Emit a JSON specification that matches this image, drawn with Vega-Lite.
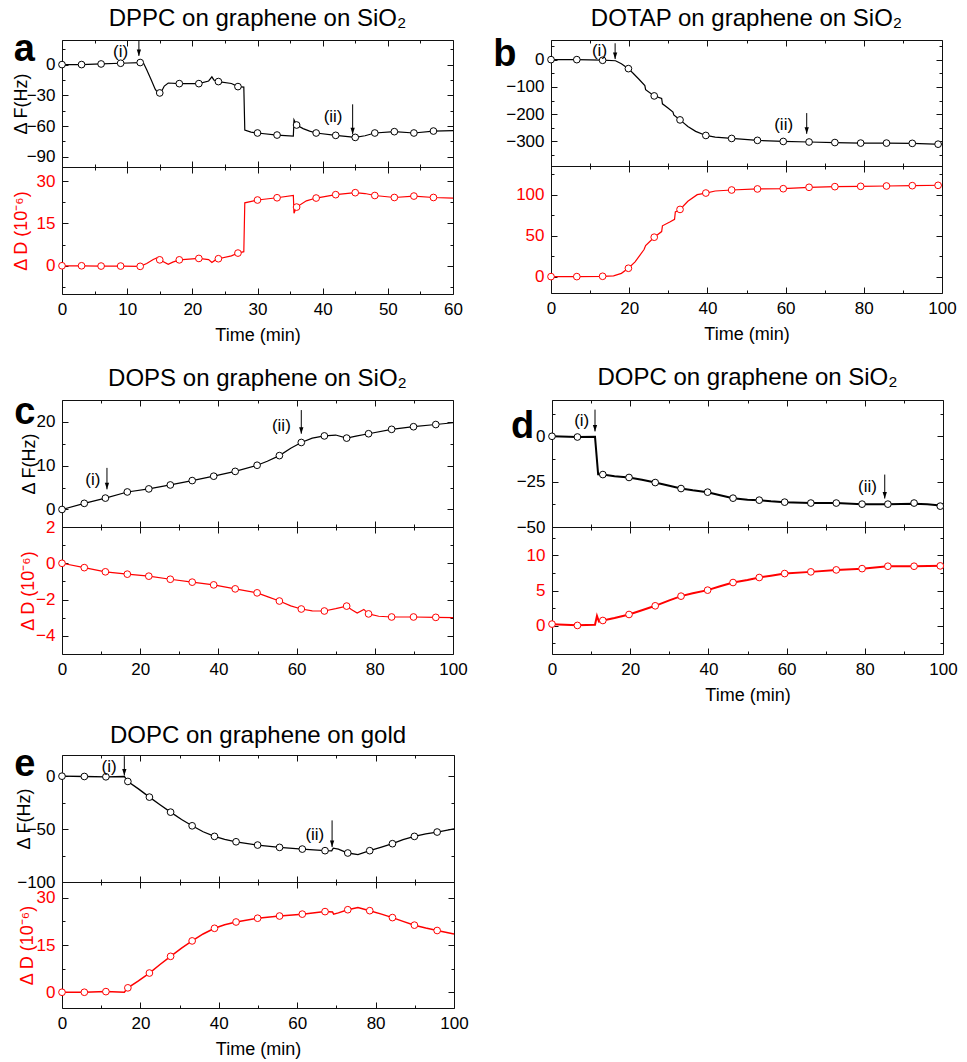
{
"$schema": "https://vega.github.io/schema/vega-lite/v6.json",
"background": "white",
"padding": {"left": 11, "top": 5, "right": 5, "bottom": 5},
"config": {
 "font": "Liberation Sans",
 "view": {"stroke": "#111", "strokeWidth": 1},
 "axis": {"domain": false, "grid": false, "tickColor": "#111", "tickWidth": 1, "tickSize": -6, "labelFont": "Liberation Sans", "labelFontSize": 17, "labelColor": "#000", "labelPadding": 7, "labelFlush": false, "labelOverlap": false, "labelBound": false, "titleFont": "Liberation Sans", "titleFontSize": 18, "titleFontWeight": "normal", "titleColor": "#000", "titlePadding": 9},
 "title": {"font": "Liberation Sans", "fontSize": 24, "fontWeight": "normal", "color": "#000", "frame": "group", "anchor": "middle", "offset": 10}
},
"datasets": {
 "aF": [{"t":0,"v":0},{"t":3,"v":0},{"t":6,"v":0.6},{"t":9,"v":1.3},{"t":12,"v":2},{"t":12.5,"v":1.5},{"t":13,"v":-5},{"t":13.7,"v":-15},{"t":14.3,"v":-24},{"t":14.8,"v":-28.5},{"t":15.2,"v":-27},{"t":15.7,"v":-21},{"t":16.3,"v":-18},{"t":18,"v":-18.6},{"t":21,"v":-18.6},{"t":22.5,"v":-16},{"t":23,"v":-12},{"t":23.3,"v":-15},{"t":24,"v":-16.6},{"t":26,"v":-18.5},{"t":27,"v":-21.5},{"t":27.9,"v":-22},{"t":28.05,"v":-64},{"t":29,"v":-66},{"t":30,"v":-66.8},{"t":33,"v":-68.8},{"t":35.5,"v":-69.8},{"t":35.6,"v":-54},{"t":36,"v":-59},{"t":37,"v":-62.5},{"t":38,"v":-65},{"t":39,"v":-66.8},{"t":42,"v":-69.1},{"t":45,"v":-71.1},{"t":46.5,"v":-69.5},{"t":48,"v":-66.8},{"t":51,"v":-65.5},{"t":54,"v":-66.8},{"t":57,"v":-64.9},{"t":60,"v":-64.5}],
 "aFm": [{"t":0,"v":0},{"t":3,"v":0},{"t":6,"v":0.6},{"t":9,"v":1.3},{"t":12,"v":2},{"t":15,"v":-27.7},{"t":18,"v":-18.6},{"t":21,"v":-18.6},{"t":24,"v":-16.6},{"t":27,"v":-21.5},{"t":30,"v":-66.8},{"t":33,"v":-68.8},{"t":36,"v":-59},{"t":39,"v":-66.8},{"t":42,"v":-69.1},{"t":45,"v":-71.1},{"t":48,"v":-66.8},{"t":51,"v":-65.5},{"t":54,"v":-66.8},{"t":57,"v":-64.9}],
 "aD": [{"t":0,"v":0},{"t":3,"v":0},{"t":6,"v":-0.1},{"t":9,"v":-0.1},{"t":12,"v":-0.2},{"t":13,"v":0.8},{"t":14,"v":2.2},{"t":14.8,"v":3},{"t":15.5,"v":1.5},{"t":16.3,"v":0.5},{"t":17,"v":1.3},{"t":18,"v":2.1},{"t":21,"v":2.6},{"t":22.5,"v":2.2},{"t":23,"v":1.2},{"t":23.5,"v":2},{"t":24,"v":2.5},{"t":26,"v":3.5},{"t":27,"v":4.5},{"t":27.9,"v":5},{"t":28.05,"v":22.3},{"t":30,"v":23.3},{"t":33,"v":24.1},{"t":35.5,"v":24.9},{"t":35.6,"v":18.6},{"t":36,"v":20.8},{"t":37.5,"v":23},{"t":39,"v":24},{"t":42,"v":25.2},{"t":45,"v":25.9},{"t":46.5,"v":25.6},{"t":48,"v":24.9},{"t":51,"v":24.2},{"t":54,"v":24.7},{"t":57,"v":24.2},{"t":60,"v":24}],
 "aDm": [{"t":0,"v":0},{"t":3,"v":0},{"t":6,"v":-0.1},{"t":9,"v":-0.1},{"t":12,"v":-0.2},{"t":15,"v":2.1},{"t":18,"v":2.1},{"t":21,"v":2.6},{"t":24,"v":2.5},{"t":27,"v":4.5},{"t":30,"v":23.3},{"t":33,"v":24.1},{"t":36,"v":20.8},{"t":39,"v":24},{"t":42,"v":25.2},{"t":45,"v":25.9},{"t":48,"v":24.9},{"t":51,"v":24.2},{"t":54,"v":24.7},{"t":57,"v":24.2}],
 "aFt": [{"t":9,"v":12.4,"label":"(i)"},{"t":41.6,"v":-51.2,"label":"(ii)"}],
 "aFa": [{"t":11.8,"v":23,"v2":8.5},{"t":44.6,"v":-38.8,"v2":-68.1}],
 "aFl": [{"t":-5.8,"v":3.6,"label":"a"}],
 "bF": [{"t":0,"v":0},{"t":6.6,"v":0},{"t":13.2,"v":-2},{"t":16.5,"v":-4},{"t":18,"v":-15},{"t":19.8,"v":-33},{"t":21,"v":-50},{"t":22.5,"v":-72},{"t":24,"v":-95},{"t":24.2,"v":-110},{"t":26.4,"v":-133},{"t":28.3,"v":-142},{"t":28.5,"v":-162},{"t":30,"v":-178},{"t":31.2,"v":-192},{"t":31.4,"v":-203},{"t":33,"v":-221},{"t":35,"v":-245},{"t":37,"v":-263},{"t":39.6,"v":-278},{"t":42,"v":-284},{"t":46.2,"v":-289},{"t":52.8,"v":-296},{"t":59.4,"v":-300},{"t":66,"v":-302},{"t":72.6,"v":-304},{"t":79.2,"v":-306},{"t":85.8,"v":-306},{"t":92.4,"v":-307},{"t":100,"v":-311}],
 "bFm": [{"t":0,"v":0},{"t":6.6,"v":0},{"t":13.2,"v":-2.4},{"t":19.8,"v":-33},{"t":26.4,"v":-133},{"t":33,"v":-221},{"t":39.6,"v":-278},{"t":46.2,"v":-289},{"t":52.8,"v":-296},{"t":59.4,"v":-300},{"t":66,"v":-302},{"t":72.6,"v":-304},{"t":79.2,"v":-306},{"t":85.8,"v":-306},{"t":92.4,"v":-307},{"t":99,"v":-310}],
 "bD": [{"t":0,"v":0},{"t":6.6,"v":0},{"t":13.2,"v":0.4},{"t":16,"v":1},{"t":18,"v":4},{"t":19.8,"v":10.2},{"t":21.5,"v":18},{"t":23.8,"v":33},{"t":24.2,"v":38},{"t":26.4,"v":48.1},{"t":28.3,"v":55},{"t":28.5,"v":62},{"t":30.5,"v":67},{"t":31.6,"v":70},{"t":31.8,"v":79},{"t":33,"v":82},{"t":35,"v":92},{"t":37.4,"v":100},{"t":39.6,"v":102},{"t":42,"v":104.5},{"t":46.2,"v":105.7},{"t":52.8,"v":107},{"t":59.4,"v":107.3},{"t":66,"v":109},{"t":72.6,"v":109.8},{"t":79.2,"v":110.2},{"t":85.8,"v":110.6},{"t":92.4,"v":111},{"t":100,"v":111.5}],
 "bDm": [{"t":0,"v":0},{"t":6.6,"v":0},{"t":13.2,"v":0.4},{"t":19.8,"v":10.2},{"t":26.4,"v":48.1},{"t":33,"v":82},{"t":39.6,"v":102},{"t":46.2,"v":105.7},{"t":52.8,"v":107},{"t":59.4,"v":107.3},{"t":66,"v":109},{"t":72.6,"v":109.8},{"t":79.2,"v":110.2},{"t":85.8,"v":110.6},{"t":92.4,"v":111},{"t":99,"v":111.4}],
 "bFt": [{"t":12.4,"v":33,"label":"(i)"},{"t":59.5,"v":-238,"label":"(ii)"}],
 "bFa": [{"t":16.4,"v":60,"v2":2},{"t":65.4,"v":-196,"v2":-272}],
 "bFl": [{"t":-11.8,"v":-21.5,"label":"b"}],
 "cF": [{"t":0,"v":0},{"t":5.7,"v":1.4},{"t":11.1,"v":2.6},{"t":16.7,"v":4.0},{"t":22.2,"v":4.7},{"t":27.7,"v":5.6},{"t":33.3,"v":6.6},{"t":38.8,"v":7.6},{"t":44.3,"v":8.7},{"t":49.9,"v":10.1},{"t":52.5,"v":11},{"t":55.6,"v":12.3},{"t":58.5,"v":14},{"t":61.2,"v":15.3},{"t":64,"v":16.3},{"t":67.1,"v":16.8},{"t":70,"v":17.0},{"t":72.8,"v":16.3},{"t":75.5,"v":16.8},{"t":78.4,"v":17.3},{"t":84.3,"v":18.3},{"t":89.9,"v":18.9},{"t":95.6,"v":19.4},{"t":100,"v":19.8}],
 "cFm": [{"t":0,"v":0},{"t":5.7,"v":1.4},{"t":11.1,"v":2.6},{"t":16.7,"v":4.0},{"t":22.2,"v":4.7},{"t":27.7,"v":5.6},{"t":33.3,"v":6.6},{"t":38.8,"v":7.6},{"t":44.3,"v":8.7},{"t":49.9,"v":10.1},{"t":55.6,"v":12.3},{"t":61.2,"v":15.3},{"t":67.1,"v":16.8},{"t":72.8,"v":16.3},{"t":78.4,"v":17.3},{"t":84.3,"v":18.3},{"t":89.9,"v":18.9},{"t":95.6,"v":19.4}],
 "cD": [{"t":0,"v":0},{"t":5.7,"v":-0.24},{"t":11.1,"v":-0.47},{"t":16.7,"v":-0.6},{"t":22.2,"v":-0.71},{"t":27.7,"v":-0.88},{"t":33.3,"v":-1.04},{"t":38.8,"v":-1.19},{"t":44.3,"v":-1.41},{"t":49.9,"v":-1.63},{"t":52.7,"v":-1.85},{"t":55.6,"v":-2.08},{"t":58.5,"v":-2.35},{"t":61.2,"v":-2.52},{"t":64,"v":-2.62},{"t":67.1,"v":-2.63},{"t":70,"v":-2.5},{"t":72.8,"v":-2.36},{"t":74,"v":-2.55},{"t":75.5,"v":-2.74},{"t":77.2,"v":-2.54},{"t":78.4,"v":-2.79},{"t":81,"v":-2.92},{"t":84.3,"v":-2.96},{"t":89.9,"v":-2.96},{"t":95.6,"v":-2.98},{"t":100,"v":-3.0}],
 "cDm": [{"t":0,"v":0},{"t":5.7,"v":-0.24},{"t":11.1,"v":-0.47},{"t":16.7,"v":-0.6},{"t":22.2,"v":-0.71},{"t":27.7,"v":-0.88},{"t":33.3,"v":-1.04},{"t":38.8,"v":-1.19},{"t":44.3,"v":-1.41},{"t":49.9,"v":-1.63},{"t":55.6,"v":-2.08},{"t":61.2,"v":-2.52},{"t":67.1,"v":-2.63},{"t":72.8,"v":-2.36},{"t":78.4,"v":-2.79},{"t":84.3,"v":-2.96},{"t":89.9,"v":-2.96},{"t":95.6,"v":-2.98}],
 "cFt": [{"t":7.9,"v":6.7,"label":"(i)"},{"t":56.1,"v":19.1,"label":"(ii)"}],
 "cFa": [{"t":11.5,"v":9.5,"v2":4.6},{"t":61.2,"v":22.7,"v2":17.3}],
 "cFl": [{"t":-9.5,"v":19.5,"label":"c"}],
 "dF": [{"t":0,"v":0},{"t":6.5,"v":-0.4},{"t":11,"v":-0.3},{"t":11.3,"v":-8},{"t":11.8,"v":-21},{"t":13,"v":-21.1},{"t":16,"v":-22},{"t":19.7,"v":-22.7},{"t":23,"v":-24},{"t":26.4,"v":-25.5},{"t":30,"v":-27.3},{"t":33,"v":-28.8},{"t":36,"v":-29.8},{"t":39.8,"v":-30.8},{"t":43,"v":-32.5},{"t":46.3,"v":-34.1},{"t":50,"v":-35},{"t":53,"v":-35.2},{"t":56,"v":-35.8},{"t":59.5,"v":-36.3},{"t":66.2,"v":-36.8},{"t":72.7,"v":-36.8},{"t":79.3,"v":-37.4},{"t":85.9,"v":-37.4},{"t":92.6,"v":-37.2},{"t":96,"v":-37.5},{"t":100,"v":-38.3}],
 "dFm": [{"t":0,"v":0},{"t":6.5,"v":-0.4},{"t":13,"v":-21.1},{"t":19.7,"v":-22.7},{"t":26.4,"v":-25.5},{"t":33,"v":-28.8},{"t":39.8,"v":-30.8},{"t":46.3,"v":-34.1},{"t":53,"v":-35.2},{"t":59.5,"v":-36.3},{"t":66.2,"v":-36.8},{"t":72.7,"v":-36.8},{"t":79.3,"v":-37.4},{"t":85.9,"v":-37.4},{"t":92.6,"v":-36.8},{"t":99.3,"v":-38.5}],
 "dD": [{"t":0,"v":0.2},{"t":6.5,"v":0.08},{"t":11,"v":0.15},{"t":11.5,"v":1.4},{"t":12,"v":0.6},{"t":13,"v":0.75},{"t":16,"v":1.1},{"t":19.7,"v":1.6},{"t":23,"v":2.2},{"t":26.4,"v":2.83},{"t":30,"v":3.6},{"t":33,"v":4.2},{"t":36,"v":4.6},{"t":39.8,"v":5.05},{"t":43,"v":5.6},{"t":46.3,"v":6.13},{"t":50,"v":6.5},{"t":53,"v":6.84},{"t":56,"v":7.1},{"t":59.5,"v":7.4},{"t":66.2,"v":7.64},{"t":72.7,"v":7.92},{"t":79.3,"v":8.1},{"t":85.9,"v":8.44},{"t":92.6,"v":8.44},{"t":100,"v":8.5}],
 "dDm": [{"t":0,"v":0.24},{"t":6.5,"v":0.05},{"t":13,"v":0.75},{"t":19.7,"v":1.6},{"t":26.4,"v":2.83},{"t":33,"v":4.2},{"t":39.8,"v":5.05},{"t":46.3,"v":6.13},{"t":53,"v":6.84},{"t":59.5,"v":7.4},{"t":66.2,"v":7.64},{"t":72.7,"v":7.92},{"t":79.3,"v":8.1},{"t":85.9,"v":8.44},{"t":92.6,"v":8.44},{"t":99.3,"v":8.49}],
 "dFt": [{"t":7.6,"v":8.2,"label":"(i)"},{"t":80.7,"v":-27.8,"label":"(ii)"}],
 "dFa": [{"t":11.0,"v":14.7,"v2":2.7},{"t":85.1,"v":-21.1,"v2":-34.3}],
 "dFl": [{"t":-7.5,"v":-1.1,"label":"d"}],
 "eF": [{"t":0,"v":0},{"t":5.7,"v":-0.3},{"t":11.2,"v":-0.6},{"t":15.9,"v":-0.3},{"t":16.8,"v":-5},{"t":19.5,"v":-12},{"t":22.3,"v":-19.8},{"t":25,"v":-27},{"t":27.7,"v":-34},{"t":30.5,"v":-41},{"t":33.2,"v":-46.9},{"t":36,"v":-52.5},{"t":38.9,"v":-56.9},{"t":41.5,"v":-59.8},{"t":44.4,"v":-62},{"t":49.9,"v":-65.1},{"t":55.5,"v":-67.3},{"t":61.3,"v":-68.9},{"t":67.1,"v":-70.4},{"t":68.8,"v":-70.5},{"t":69.2,"v":-68},{"t":70.5,"v":-69},{"t":72.9,"v":-72.6},{"t":75.5,"v":-74.2},{"t":78.5,"v":-70.4},{"t":81.5,"v":-67},{"t":84.3,"v":-63.8},{"t":87,"v":-60},{"t":89.9,"v":-56.9},{"t":92.8,"v":-54.5},{"t":95.7,"v":-52.8},{"t":100,"v":-49.7}],
 "eFm": [{"t":0,"v":0},{"t":5.7,"v":-0.3},{"t":11.2,"v":-0.6},{"t":16.8,"v":-5},{"t":22.3,"v":-19.8},{"t":27.7,"v":-34},{"t":33.2,"v":-46.9},{"t":38.9,"v":-56.9},{"t":44.4,"v":-62},{"t":49.9,"v":-65.1},{"t":55.5,"v":-67.3},{"t":61.3,"v":-68.9},{"t":67.1,"v":-70.4},{"t":72.9,"v":-72.6},{"t":78.5,"v":-70.4},{"t":84.3,"v":-63.8},{"t":89.9,"v":-56.9},{"t":95.7,"v":-52.8}],
 "eD": [{"t":0,"v":0},{"t":5.7,"v":0},{"t":11.2,"v":0.2},{"t":15.9,"v":0},{"t":16.8,"v":1.4},{"t":19.5,"v":3.6},{"t":22.3,"v":6.1},{"t":25,"v":8.8},{"t":27.7,"v":11.4},{"t":30.5,"v":14},{"t":33.2,"v":16.3},{"t":36,"v":18.5},{"t":38.9,"v":20.3},{"t":41.5,"v":21.4},{"t":44.4,"v":22.3},{"t":49.9,"v":23.5},{"t":55.5,"v":24.2},{"t":61.3,"v":24.8},{"t":67.1,"v":25.6},{"t":69,"v":25.5},{"t":69.3,"v":24.8},{"t":70.5,"v":25.2},{"t":72.9,"v":26.2},{"t":75.5,"v":26.9},{"t":78.5,"v":25.9},{"t":81.5,"v":24.8},{"t":84.3,"v":23.7},{"t":87,"v":22.5},{"t":89.9,"v":21.3},{"t":92.8,"v":20.4},{"t":95.7,"v":19.6},{"t":100,"v":18.5}],
 "eDm": [{"t":0,"v":0},{"t":5.7,"v":0},{"t":11.2,"v":0.2},{"t":16.8,"v":1.4},{"t":22.3,"v":6.1},{"t":27.7,"v":11.4},{"t":33.2,"v":16.3},{"t":38.9,"v":20.3},{"t":44.4,"v":22.3},{"t":49.9,"v":23.5},{"t":55.5,"v":24.2},{"t":61.3,"v":24.8},{"t":67.1,"v":25.6},{"t":72.9,"v":26.2},{"t":78.5,"v":25.9},{"t":84.3,"v":23.7},{"t":89.9,"v":21.3},{"t":95.7,"v":19.6}],
 "eFt": [{"t":12,"v":8.5,"label":"(i)"},{"t":64.5,"v":-55.3,"label":"(ii)"}],
 "eFa": [{"t":15.9,"v":18.9,"v2":0.6},{"t":68.9,"v":-41.8,"v2":-67}],
 "eFl": [{"t":-9.5,"v":0,"label":"e"}]
},
"spacing": 20,
"vconcat": [
 {"hconcat": [
  {"spacing": 0, "bounds": "flush", "vconcat": [
   {"width": 391, "height": 127, "title": {"text": "DPPC on graphene on SiO₂", "offset": 0},
    "encoding": {"x": {"field": "t", "type": "quantitative", "scale": {"domain": [0, 60], "nice": false, "zero": false}, "axis": null},
                 "y": {"field": "v", "type": "quantitative", "scale": {"domain": [-100, 24], "nice": false, "zero": false}, "axis": null}},
    "layer": [
     {"data": {"name": "aF"}, "mark": {"type": "line", "color": "#000", "strokeWidth": 1.2},
      "encoding": {"y": {"field": "v", "type": "quantitative", "axis": {"orient": "left", "ticks": false, "values": [-90, -60, -30, 0], "title": "Δ F(Hz)", "titleX": -41, "titleBaseline": "middle"}}}},
     {"data": {"name": "aFm"}, "mark": {"type": "point", "shape": "circle", "size": 45, "fill": "#fff", "stroke": "#000", "strokeWidth": 1, "opacity": 1},
      "encoding": {"x": {"field": "t", "type": "quantitative", "axis": {"orient": "bottom", "labels": false, "title": null, "values": [0, 10, 20, 30, 40, 50, 60]}},
                   "y": {"field": "v", "type": "quantitative", "axis": {"orient": "left", "labels": false, "title": null, "values": [-90, -60, -30, 0]}}}},
     {"data": {"name": "aFm"}, "mark": {"type": "point", "opacity": 0},
      "encoding": {"x": {"field": "t", "type": "quantitative", "axis": {"orient": "bottom", "labels": false, "title": null, "tickSize": -3, "values": [5, 15, 25, 35, 45, 55]}},
                   "y": {"field": "v", "type": "quantitative", "axis": {"orient": "left", "labels": false, "title": null, "tickSize": -3, "values": [-75, -45, -15, 15]}}}},
     {"data": {"name": "aFm"}, "mark": {"type": "point", "opacity": 0},
      "encoding": {"x": {"field": "t", "type": "quantitative", "axis": {"orient": "top", "labels": false, "title": null, "values": [0, 10, 20, 30, 40, 50, 60]}},
                   "y": {"field": "v", "type": "quantitative", "axis": {"orient": "right", "labels": false, "title": null, "values": [-90, -60, -30, 0]}}}},
     {"data": {"name": "aFm"}, "mark": {"type": "point", "opacity": 0},
      "encoding": {"x": {"field": "t", "type": "quantitative", "axis": {"orient": "top", "labels": false, "title": null, "tickSize": -3, "values": [5, 15, 25, 35, 45, 55]}},
                   "y": {"field": "v", "type": "quantitative", "axis": {"orient": "right", "labels": false, "title": null, "tickSize": -3, "values": [-75, -45, -15, 15]}}}},
     {"data": {"name": "aFt"}, "mark": {"type": "text", "fontSize": 17, "color": "#000"}, "encoding": {"text": {"field": "label"}}},
     {"data": {"name": "aFa"}, "mark": {"type": "rule", "color": "#000", "strokeWidth": 1}, "encoding": {"y2": {"field": "v2"}}},
     {"data": {"name": "aFa"}, "mark": {"type": "point", "shape": "M-0.33,-1L0.33,-1L0,0Z", "size": 169, "filled": true, "color": "#000", "opacity": 1}, "encoding": {"y": {"field": "v2", "type": "quantitative", "axis": null}}},
     {"data": {"name": "aFl"}, "mark": {"type": "text", "fontSize": 38, "fontWeight": "bold", "baseline": "alphabetic", "color": "#000"}, "encoding": {"text": {"field": "label"}}}
    ],
    "resolve": {"axis": {"x": "independent", "y": "independent"}}},
   {"width": 391, "height": 127,
    "encoding": {"x": {"field": "t", "type": "quantitative", "scale": {"domain": [0, 60], "nice": false, "zero": false}, "axis": null},
                 "y": {"field": "v", "type": "quantitative", "scale": {"domain": [-10, 35], "nice": false, "zero": false}, "axis": null}},
    "layer": [
     {"data": {"name": "aD"}, "mark": {"type": "line", "color": "#ff0000", "strokeWidth": 1.2},
      "encoding": {"x": {"field": "t", "type": "quantitative", "axis": {"orient": "bottom", "ticks": false, "values": [0, 10, 20, 30, 40, 50, 60], "title": "Time (min)"}},
                   "y": {"field": "v", "type": "quantitative", "axis": {"orient": "left", "ticks": false, "values": [0, 15, 30], "title": "Δ D (10⁻⁶)", "titleX": -41, "titleBaseline": "middle", "labelColor": "#ff0000", "titleColor": "#ff0000"}}}},
     {"data": {"name": "aDm"}, "mark": {"type": "point", "shape": "circle", "size": 45, "fill": "#fff", "stroke": "#ff0000", "strokeWidth": 1, "opacity": 1},
      "encoding": {"x": {"field": "t", "type": "quantitative", "axis": {"orient": "bottom", "labels": false, "title": null, "values": [0, 10, 20, 30, 40, 50, 60]}},
                   "y": {"field": "v", "type": "quantitative", "axis": {"orient": "left", "labels": false, "title": null, "values": [0, 15, 30]}}}},
     {"data": {"name": "aDm"}, "mark": {"type": "point", "opacity": 0},
      "encoding": {"x": {"field": "t", "type": "quantitative", "axis": {"orient": "bottom", "labels": false, "title": null, "tickSize": -3, "values": [5, 15, 25, 35, 45, 55]}},
                   "y": {"field": "v", "type": "quantitative", "axis": {"orient": "left", "labels": false, "title": null, "tickSize": -3, "values": [-7.5, 7.5, 22.5]}}}},
     {"data": {"name": "aDm"}, "mark": {"type": "point", "opacity": 0},
      "encoding": {"x": {"field": "t", "type": "quantitative", "axis": {"orient": "top", "labels": false, "title": null, "values": [0, 10, 20, 30, 40, 50, 60]}},
                   "y": {"field": "v", "type": "quantitative", "axis": {"orient": "right", "labels": false, "title": null, "values": [0, 15, 30]}}}},
     {"data": {"name": "aDm"}, "mark": {"type": "point", "opacity": 0},
      "encoding": {"x": {"field": "t", "type": "quantitative", "axis": {"orient": "top", "labels": false, "title": null, "tickSize": -3, "values": [5, 15, 25, 35, 45, 55]}},
                   "y": {"field": "v", "type": "quantitative", "axis": {"orient": "right", "labels": false, "title": null, "tickSize": -3, "values": [-7.5, 7.5, 22.5]}}}}
    ],
    "resolve": {"axis": {"x": "independent", "y": "independent"}}}
  ]},
  {"spacing": 0, "bounds": "flush", "vconcat": [
   {"width": 391, "height": 126, "title": {"text": "DOTAP on graphene on SiO₂", "offset": 5},
    "encoding": {"x": {"field": "t", "type": "quantitative", "scale": {"domain": [0, 100], "nice": false, "zero": false}, "axis": null},
                 "y": {"field": "v", "type": "quantitative", "scale": {"domain": [-390, 72], "nice": false, "zero": false}, "axis": null}},
    "layer": [
     {"data": {"name": "bF"}, "mark": {"type": "line", "color": "#000", "strokeWidth": 1.2},
      "encoding": {"y": {"field": "v", "type": "quantitative", "axis": {"orient": "left", "ticks": false, "values": [-300, -200, -100, 0], "title": null}}}},
     {"data": {"name": "bFm"}, "mark": {"type": "point", "shape": "circle", "size": 45, "fill": "#fff", "stroke": "#000", "strokeWidth": 1, "opacity": 1},
      "encoding": {"x": {"field": "t", "type": "quantitative", "axis": {"orient": "bottom", "labels": false, "title": null, "values": [0, 20, 40, 60, 80, 100]}},
                   "y": {"field": "v", "type": "quantitative", "axis": {"orient": "left", "labels": false, "title": null, "values": [-300, -200, -100, 0]}}}},
     {"data": {"name": "bFm"}, "mark": {"type": "point", "opacity": 0},
      "encoding": {"x": {"field": "t", "type": "quantitative", "axis": {"orient": "bottom", "labels": false, "title": null, "tickSize": -3, "values": [10, 30, 50, 70, 90]}},
                   "y": {"field": "v", "type": "quantitative", "axis": {"orient": "left", "labels": false, "title": null, "tickSize": -3, "values": [-350, -250, -150, -50, 50]}}}},
     {"data": {"name": "bFm"}, "mark": {"type": "point", "opacity": 0},
      "encoding": {"x": {"field": "t", "type": "quantitative", "axis": {"orient": "top", "labels": false, "title": null, "values": [0, 20, 40, 60, 80, 100]}},
                   "y": {"field": "v", "type": "quantitative", "axis": {"orient": "right", "labels": false, "title": null, "values": [-300, -200, -100, 0]}}}},
     {"data": {"name": "bFm"}, "mark": {"type": "point", "opacity": 0},
      "encoding": {"x": {"field": "t", "type": "quantitative", "axis": {"orient": "top", "labels": false, "title": null, "tickSize": -3, "values": [10, 30, 50, 70, 90]}},
                   "y": {"field": "v", "type": "quantitative", "axis": {"orient": "right", "labels": false, "title": null, "tickSize": -3, "values": [-350, -250, -150, -50, 50]}}}},
     {"data": {"name": "bFt"}, "mark": {"type": "text", "fontSize": 17, "color": "#000"}, "encoding": {"text": {"field": "label"}}},
     {"data": {"name": "bFa"}, "mark": {"type": "rule", "color": "#000", "strokeWidth": 1}, "encoding": {"y2": {"field": "v2"}}},
     {"data": {"name": "bFa"}, "mark": {"type": "point", "shape": "M-0.33,-1L0.33,-1L0,0Z", "size": 169, "filled": true, "color": "#000", "opacity": 1}, "encoding": {"y": {"field": "v2", "type": "quantitative", "axis": null}}},
     {"data": {"name": "bFl"}, "mark": {"type": "text", "fontSize": 38, "fontWeight": "bold", "baseline": "alphabetic", "color": "#000"}, "encoding": {"text": {"field": "label"}}}
    ],
    "resolve": {"axis": {"x": "independent", "y": "independent"}}},
   {"width": 391, "height": 127,
    "encoding": {"x": {"field": "t", "type": "quantitative", "scale": {"domain": [0, 100], "nice": false, "zero": false}, "axis": null},
                 "y": {"field": "v", "type": "quantitative", "scale": {"domain": [-20, 135], "nice": false, "zero": false}, "axis": null}},
    "layer": [
     {"data": {"name": "bD"}, "mark": {"type": "line", "color": "#ff0000", "strokeWidth": 1.2},
      "encoding": {"x": {"field": "t", "type": "quantitative", "axis": {"orient": "bottom", "ticks": false, "values": [0, 20, 40, 60, 80, 100], "title": "Time (min)"}},
                   "y": {"field": "v", "type": "quantitative", "axis": {"orient": "left", "ticks": false, "values": [0, 50, 100], "title": null, "labelColor": "#ff0000"}}}},
     {"data": {"name": "bDm"}, "mark": {"type": "point", "shape": "circle", "size": 45, "fill": "#fff", "stroke": "#ff0000", "strokeWidth": 1, "opacity": 1},
      "encoding": {"x": {"field": "t", "type": "quantitative", "axis": {"orient": "bottom", "labels": false, "title": null, "values": [0, 20, 40, 60, 80, 100]}},
                   "y": {"field": "v", "type": "quantitative", "axis": {"orient": "left", "labels": false, "title": null, "values": [0, 50, 100]}}}},
     {"data": {"name": "bDm"}, "mark": {"type": "point", "opacity": 0},
      "encoding": {"x": {"field": "t", "type": "quantitative", "axis": {"orient": "bottom", "labels": false, "title": null, "tickSize": -3, "values": [10, 30, 50, 70, 90]}},
                   "y": {"field": "v", "type": "quantitative", "axis": {"orient": "left", "labels": false, "title": null, "tickSize": -3, "values": [25, 75, 125]}}}},
     {"data": {"name": "bDm"}, "mark": {"type": "point", "opacity": 0},
      "encoding": {"x": {"field": "t", "type": "quantitative", "axis": {"orient": "top", "labels": false, "title": null, "values": [0, 20, 40, 60, 80, 100]}},
                   "y": {"field": "v", "type": "quantitative", "axis": {"orient": "right", "labels": false, "title": null, "values": [0, 50, 100]}}}},
     {"data": {"name": "bDm"}, "mark": {"type": "point", "opacity": 0},
      "encoding": {"x": {"field": "t", "type": "quantitative", "axis": {"orient": "top", "labels": false, "title": null, "tickSize": -3, "values": [10, 30, 50, 70, 90]}},
                   "y": {"field": "v", "type": "quantitative", "axis": {"orient": "right", "labels": false, "title": null, "tickSize": -3, "values": [25, 75, 125]}}}}
    ],
    "resolve": {"axis": {"x": "independent", "y": "independent"}}}
  ]}
 ], "spacing": 29},
 {"spacing": 18, "vconcat": [
  {"hconcat": [
   {"spacing": 0, "bounds": "flush", "vconcat": [
    {"width": 391, "height": 127, "title": {"text": "DOPS on graphene on SiO₂", "offset": 3},
     "encoding": {"x": {"field": "t", "type": "quantitative", "scale": {"domain": [0, 100], "nice": false, "zero": false}, "axis": null},
                  "y": {"field": "v", "type": "quantitative", "scale": {"domain": [-4, 25], "nice": false, "zero": false}, "axis": null}},
     "layer": [
      {"data": {"name": "cF"}, "mark": {"type": "line", "color": "#000", "strokeWidth": 1.2},
       "encoding": {"y": {"field": "v", "type": "quantitative", "axis": {"orient": "left", "ticks": false, "values": [0, 10, 20], "title": "Δ F(Hz)", "titleX": -33, "titleBaseline": "middle"}}}},
      {"data": {"name": "cFm"}, "mark": {"type": "point", "shape": "circle", "size": 45, "fill": "#fff", "stroke": "#000", "strokeWidth": 1, "opacity": 1},
       "encoding": {"x": {"field": "t", "type": "quantitative", "axis": {"orient": "bottom", "labels": false, "title": null, "values": [0, 20, 40, 60, 80, 100]}},
                    "y": {"field": "v", "type": "quantitative", "axis": {"orient": "left", "labels": false, "title": null, "values": [0, 10, 20]}}}},
      {"data": {"name": "cFm"}, "mark": {"type": "point", "opacity": 0},
       "encoding": {"x": {"field": "t", "type": "quantitative", "axis": {"orient": "bottom", "labels": false, "title": null, "tickSize": -3, "values": [10, 30, 50, 70, 90]}},
                    "y": {"field": "v", "type": "quantitative", "axis": {"orient": "left", "labels": false, "title": null, "tickSize": -3, "values": [5, 15]}}}},
      {"data": {"name": "cFm"}, "mark": {"type": "point", "opacity": 0},
       "encoding": {"x": {"field": "t", "type": "quantitative", "axis": {"orient": "top", "labels": false, "title": null, "values": [0, 20, 40, 60, 80, 100]}},
                    "y": {"field": "v", "type": "quantitative", "axis": {"orient": "right", "labels": false, "title": null, "values": [0, 10, 20]}}}},
      {"data": {"name": "cFm"}, "mark": {"type": "point", "opacity": 0},
       "encoding": {"x": {"field": "t", "type": "quantitative", "axis": {"orient": "top", "labels": false, "title": null, "tickSize": -3, "values": [10, 30, 50, 70, 90]}},
                    "y": {"field": "v", "type": "quantitative", "axis": {"orient": "right", "labels": false, "title": null, "tickSize": -3, "values": [5, 15]}}}},
      {"data": {"name": "cFt"}, "mark": {"type": "text", "fontSize": 17, "color": "#000"}, "encoding": {"text": {"field": "label"}}},
      {"data": {"name": "cFa"}, "mark": {"type": "rule", "color": "#000", "strokeWidth": 1}, "encoding": {"y2": {"field": "v2"}}},
      {"data": {"name": "cFa"}, "mark": {"type": "point", "shape": "M-0.33,-1L0.33,-1L0,0Z", "size": 169, "filled": true, "color": "#000", "opacity": 1}, "encoding": {"y": {"field": "v2", "type": "quantitative", "axis": null}}},
      {"data": {"name": "cFl"}, "mark": {"type": "text", "fontSize": 38, "fontWeight": "bold", "baseline": "alphabetic", "color": "#000"}, "encoding": {"text": {"field": "label"}}}
     ],
     "resolve": {"axis": {"x": "independent", "y": "independent"}}},
    {"width": 391, "height": 127,
     "encoding": {"x": {"field": "t", "type": "quantitative", "scale": {"domain": [0, 100], "nice": false, "zero": false}, "axis": null},
                  "y": {"field": "v", "type": "quantitative", "scale": {"domain": [-5, 2], "nice": false, "zero": false}, "axis": null}},
     "layer": [
      {"data": {"name": "cD"}, "mark": {"type": "line", "color": "#ff0000", "strokeWidth": 1.2},
       "encoding": {"x": {"field": "t", "type": "quantitative", "axis": {"orient": "bottom", "ticks": false, "values": [0, 20, 40, 60, 80, 100], "title": null}},
                    "y": {"field": "v", "type": "quantitative", "axis": {"orient": "left", "ticks": false, "values": [-4, -2, 0, 2], "title": "Δ D (10⁻⁶)", "titleX": -34, "titleBaseline": "middle", "labelColor": "#ff0000", "titleColor": "#ff0000"}}}},
      {"data": {"name": "cDm"}, "mark": {"type": "point", "shape": "circle", "size": 45, "fill": "#fff", "stroke": "#ff0000", "strokeWidth": 1, "opacity": 1},
       "encoding": {"x": {"field": "t", "type": "quantitative", "axis": {"orient": "bottom", "labels": false, "title": null, "values": [0, 20, 40, 60, 80, 100]}},
                    "y": {"field": "v", "type": "quantitative", "axis": {"orient": "left", "labels": false, "title": null, "values": [-4, -2, 0, 2]}}}},
      {"data": {"name": "cDm"}, "mark": {"type": "point", "opacity": 0},
       "encoding": {"x": {"field": "t", "type": "quantitative", "axis": {"orient": "bottom", "labels": false, "title": null, "tickSize": -3, "values": [10, 30, 50, 70, 90]}},
                    "y": {"field": "v", "type": "quantitative", "axis": {"orient": "left", "labels": false, "title": null, "tickSize": -3, "values": [-3, -1, 1]}}}},
      {"data": {"name": "cDm"}, "mark": {"type": "point", "opacity": 0},
       "encoding": {"x": {"field": "t", "type": "quantitative", "axis": {"orient": "top", "labels": false, "title": null, "values": [0, 20, 40, 60, 80, 100]}},
                    "y": {"field": "v", "type": "quantitative", "axis": {"orient": "right", "labels": false, "title": null, "values": [-4, -2, 0, 2]}}}},
      {"data": {"name": "cDm"}, "mark": {"type": "point", "opacity": 0},
       "encoding": {"x": {"field": "t", "type": "quantitative", "axis": {"orient": "top", "labels": false, "title": null, "tickSize": -3, "values": [10, 30, 50, 70, 90]}},
                    "y": {"field": "v", "type": "quantitative", "axis": {"orient": "right", "labels": false, "title": null, "tickSize": -3, "values": [-3, -1, 1]}}}}
     ],
     "resolve": {"axis": {"x": "independent", "y": "independent"}}}
   ]},
   {"spacing": 0, "bounds": "flush", "vconcat": [
    {"width": 391, "height": 127, "title": {"text": "DOPC on graphene on SiO₂", "offset": 10},
     "encoding": {"x": {"field": "t", "type": "quantitative", "scale": {"domain": [0, 100], "nice": false, "zero": false}, "axis": null},
                  "y": {"field": "v", "type": "quantitative", "scale": {"domain": [-50, 20], "nice": false, "zero": false}, "axis": null}},
     "layer": [
      {"data": {"name": "dF"}, "mark": {"type": "line", "color": "#000", "strokeWidth": 2},
       "encoding": {"y": {"field": "v", "type": "quantitative", "axis": {"orient": "left", "ticks": false, "values": [-50, -25, 0], "title": null}}}},
      {"data": {"name": "dFm"}, "mark": {"type": "point", "shape": "circle", "size": 45, "fill": "#fff", "stroke": "#000", "strokeWidth": 1, "opacity": 1},
       "encoding": {"x": {"field": "t", "type": "quantitative", "axis": {"orient": "bottom", "labels": false, "title": null, "values": [0, 20, 40, 60, 80, 100]}},
                    "y": {"field": "v", "type": "quantitative", "axis": {"orient": "left", "labels": false, "title": null, "values": [-50, -25, 0]}}}},
      {"data": {"name": "dFm"}, "mark": {"type": "point", "opacity": 0},
       "encoding": {"x": {"field": "t", "type": "quantitative", "axis": {"orient": "bottom", "labels": false, "title": null, "tickSize": -3, "values": [10, 30, 50, 70, 90]}},
                    "y": {"field": "v", "type": "quantitative", "axis": {"orient": "left", "labels": false, "title": null, "tickSize": -3, "values": [-37.5, -12.5, 12.5]}}}},
      {"data": {"name": "dFm"}, "mark": {"type": "point", "opacity": 0},
       "encoding": {"x": {"field": "t", "type": "quantitative", "axis": {"orient": "top", "labels": false, "title": null, "values": [0, 20, 40, 60, 80, 100]}},
                    "y": {"field": "v", "type": "quantitative", "axis": {"orient": "right", "labels": false, "title": null, "values": [-50, -25, 0]}}}},
      {"data": {"name": "dFm"}, "mark": {"type": "point", "opacity": 0},
       "encoding": {"x": {"field": "t", "type": "quantitative", "axis": {"orient": "top", "labels": false, "title": null, "tickSize": -3, "values": [10, 30, 50, 70, 90]}},
                    "y": {"field": "v", "type": "quantitative", "axis": {"orient": "right", "labels": false, "title": null, "tickSize": -3, "values": [-37.5, -12.5, 12.5]}}}},
      {"data": {"name": "dFt"}, "mark": {"type": "text", "fontSize": 17, "color": "#000"}, "encoding": {"text": {"field": "label"}}},
      {"data": {"name": "dFa"}, "mark": {"type": "rule", "color": "#000", "strokeWidth": 1}, "encoding": {"y2": {"field": "v2"}}},
      {"data": {"name": "dFa"}, "mark": {"type": "point", "shape": "M-0.33,-1L0.33,-1L0,0Z", "size": 169, "filled": true, "color": "#000", "opacity": 1}, "encoding": {"y": {"field": "v2", "type": "quantitative", "axis": null}}},
      {"data": {"name": "dFl"}, "mark": {"type": "text", "fontSize": 38, "fontWeight": "bold", "baseline": "alphabetic", "color": "#000"}, "encoding": {"text": {"field": "label"}}}
     ],
     "resolve": {"axis": {"x": "independent", "y": "independent"}}},
    {"width": 391, "height": 127,
     "encoding": {"x": {"field": "t", "type": "quantitative", "scale": {"domain": [0, 100], "nice": false, "zero": false}, "axis": null},
                  "y": {"field": "v", "type": "quantitative", "scale": {"domain": [-4, 14], "nice": false, "zero": false}, "axis": null}},
     "layer": [
      {"data": {"name": "dD"}, "mark": {"type": "line", "color": "#ff0000", "strokeWidth": 2},
       "encoding": {"x": {"field": "t", "type": "quantitative", "axis": {"orient": "bottom", "ticks": false, "values": [0, 20, 40, 60, 80, 100], "title": "Time (min)"}},
                    "y": {"field": "v", "type": "quantitative", "axis": {"orient": "left", "ticks": false, "values": [0, 5, 10], "title": null, "labelColor": "#ff0000"}}}},
      {"data": {"name": "dDm"}, "mark": {"type": "point", "shape": "circle", "size": 45, "fill": "#fff", "stroke": "#ff0000", "strokeWidth": 1, "opacity": 1},
       "encoding": {"x": {"field": "t", "type": "quantitative", "axis": {"orient": "bottom", "labels": false, "title": null, "values": [0, 20, 40, 60, 80, 100]}},
                    "y": {"field": "v", "type": "quantitative", "axis": {"orient": "left", "labels": false, "title": null, "values": [0, 5, 10]}}}},
      {"data": {"name": "dDm"}, "mark": {"type": "point", "opacity": 0},
       "encoding": {"x": {"field": "t", "type": "quantitative", "axis": {"orient": "bottom", "labels": false, "title": null, "tickSize": -3, "values": [10, 30, 50, 70, 90]}},
                    "y": {"field": "v", "type": "quantitative", "axis": {"orient": "left", "labels": false, "title": null, "tickSize": -3, "values": [-2.5, 2.5, 7.5, 12.5]}}}},
      {"data": {"name": "dDm"}, "mark": {"type": "point", "opacity": 0},
       "encoding": {"x": {"field": "t", "type": "quantitative", "axis": {"orient": "top", "labels": false, "title": null, "values": [0, 20, 40, 60, 80, 100]}},
                    "y": {"field": "v", "type": "quantitative", "axis": {"orient": "right", "labels": false, "title": null, "values": [0, 5, 10]}}}},
      {"data": {"name": "dDm"}, "mark": {"type": "point", "opacity": 0},
       "encoding": {"x": {"field": "t", "type": "quantitative", "axis": {"orient": "top", "labels": false, "title": null, "tickSize": -3, "values": [10, 30, 50, 70, 90]}},
                    "y": {"field": "v", "type": "quantitative", "axis": {"orient": "right", "labels": false, "title": null, "tickSize": -3, "values": [-2.5, 2.5, 7.5, 12.5]}}}}
     ],
     "resolve": {"axis": {"x": "independent", "y": "independent"}}}
   ]}
  ], "spacing": 42},
  {"spacing": 0, "bounds": "flush", "vconcat": [
   {"width": 392, "height": 127, "title": {"text": "DOPC on graphene on gold", "offset": -2},
    "encoding": {"x": {"field": "t", "type": "quantitative", "scale": {"domain": [0, 100], "nice": false, "zero": false}, "axis": null},
                 "y": {"field": "v", "type": "quantitative", "scale": {"domain": [-100, 20], "nice": false, "zero": false}, "axis": null}},
    "layer": [
     {"data": {"name": "eF"}, "mark": {"type": "line", "color": "#000", "strokeWidth": 1.3},
      "encoding": {"y": {"field": "v", "type": "quantitative", "axis": {"orient": "left", "ticks": false, "values": [-100, -50, 0], "title": "Δ F(Hz)", "titleX": -38, "titleBaseline": "middle"}}}},
     {"data": {"name": "eFm"}, "mark": {"type": "point", "shape": "circle", "size": 45, "fill": "#fff", "stroke": "#000", "strokeWidth": 1, "opacity": 1},
      "encoding": {"x": {"field": "t", "type": "quantitative", "axis": {"orient": "bottom", "labels": false, "title": null, "values": [0, 20, 40, 60, 80, 100]}},
                   "y": {"field": "v", "type": "quantitative", "axis": {"orient": "left", "labels": false, "title": null, "values": [-100, -50, 0]}}}},
     {"data": {"name": "eFm"}, "mark": {"type": "point", "opacity": 0},
      "encoding": {"x": {"field": "t", "type": "quantitative", "axis": {"orient": "bottom", "labels": false, "title": null, "tickSize": -3, "values": [10, 30, 50, 70, 90]}},
                   "y": {"field": "v", "type": "quantitative", "axis": {"orient": "left", "labels": false, "title": null, "tickSize": -3, "values": [-75, -25]}}}},
     {"data": {"name": "eFm"}, "mark": {"type": "point", "opacity": 0},
      "encoding": {"x": {"field": "t", "type": "quantitative", "axis": {"orient": "top", "labels": false, "title": null, "values": [0, 20, 40, 60, 80, 100]}},
                   "y": {"field": "v", "type": "quantitative", "axis": {"orient": "right", "labels": false, "title": null, "values": [-100, -50, 0]}}}},
     {"data": {"name": "eFm"}, "mark": {"type": "point", "opacity": 0},
      "encoding": {"x": {"field": "t", "type": "quantitative", "axis": {"orient": "top", "labels": false, "title": null, "tickSize": -3, "values": [10, 30, 50, 70, 90]}},
                   "y": {"field": "v", "type": "quantitative", "axis": {"orient": "right", "labels": false, "title": null, "tickSize": -3, "values": [-75, -25]}}}},
     {"data": {"name": "eFt"}, "mark": {"type": "text", "fontSize": 17, "color": "#000"}, "encoding": {"text": {"field": "label"}}},
     {"data": {"name": "eFa"}, "mark": {"type": "rule", "color": "#000", "strokeWidth": 1}, "encoding": {"y2": {"field": "v2"}}},
     {"data": {"name": "eFa"}, "mark": {"type": "point", "shape": "M-0.33,-1L0.33,-1L0,0Z", "size": 169, "filled": true, "color": "#000", "opacity": 1}, "encoding": {"y": {"field": "v2", "type": "quantitative", "axis": null}}},
     {"data": {"name": "eFl"}, "mark": {"type": "text", "fontSize": 38, "fontWeight": "bold", "baseline": "alphabetic", "color": "#000"}, "encoding": {"text": {"field": "label"}}}
    ],
    "resolve": {"axis": {"x": "independent", "y": "independent"}}},
   {"width": 392, "height": 126,
    "encoding": {"x": {"field": "t", "type": "quantitative", "scale": {"domain": [0, 100], "nice": false, "zero": false}, "axis": null},
                 "y": {"field": "v", "type": "quantitative", "scale": {"domain": [-5, 35], "nice": false, "zero": false}, "axis": null}},
    "layer": [
     {"data": {"name": "eD"}, "mark": {"type": "line", "color": "#ff0000", "strokeWidth": 1.5},
      "encoding": {"x": {"field": "t", "type": "quantitative", "axis": {"orient": "bottom", "ticks": false, "values": [0, 20, 40, 60, 80, 100], "title": "Time (min)"}},
                   "y": {"field": "v", "type": "quantitative", "axis": {"orient": "left", "ticks": false, "values": [0, 15, 30], "title": "Δ D (10⁻⁶)", "titleX": -35, "titleBaseline": "middle", "labelColor": "#ff0000", "titleColor": "#ff0000"}}}},
     {"data": {"name": "eDm"}, "mark": {"type": "point", "shape": "circle", "size": 45, "fill": "#fff", "stroke": "#ff0000", "strokeWidth": 1, "opacity": 1},
      "encoding": {"x": {"field": "t", "type": "quantitative", "axis": {"orient": "bottom", "labels": false, "title": null, "values": [0, 20, 40, 60, 80, 100]}},
                   "y": {"field": "v", "type": "quantitative", "axis": {"orient": "left", "labels": false, "title": null, "values": [0, 15, 30]}}}},
     {"data": {"name": "eDm"}, "mark": {"type": "point", "opacity": 0},
      "encoding": {"x": {"field": "t", "type": "quantitative", "axis": {"orient": "bottom", "labels": false, "title": null, "tickSize": -3, "values": [10, 30, 50, 70, 90]}},
                   "y": {"field": "v", "type": "quantitative", "axis": {"orient": "left", "labels": false, "title": null, "tickSize": -3, "values": [7.5, 22.5]}}}},
     {"data": {"name": "eDm"}, "mark": {"type": "point", "opacity": 0},
      "encoding": {"x": {"field": "t", "type": "quantitative", "axis": {"orient": "top", "labels": false, "title": null, "values": [0, 20, 40, 60, 80, 100]}},
                   "y": {"field": "v", "type": "quantitative", "axis": {"orient": "right", "labels": false, "title": null, "values": [0, 15, 30]}}}},
     {"data": {"name": "eDm"}, "mark": {"type": "point", "opacity": 0},
      "encoding": {"x": {"field": "t", "type": "quantitative", "axis": {"orient": "top", "labels": false, "title": null, "tickSize": -3, "values": [10, 30, 50, 70, 90]}},
                   "y": {"field": "v", "type": "quantitative", "axis": {"orient": "right", "labels": false, "title": null, "tickSize": -3, "values": [7.5, 22.5]}}}}
    ],
    "resolve": {"axis": {"x": "independent", "y": "independent"}}}
  ]}
 ]}
]
}
